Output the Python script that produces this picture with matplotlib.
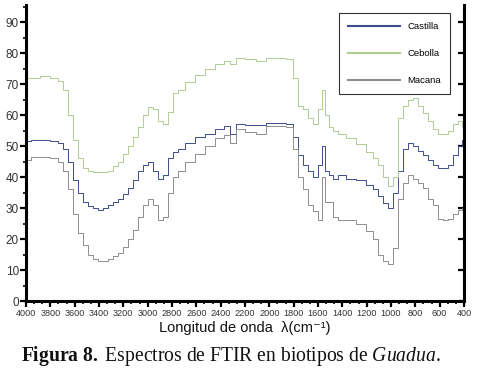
import numpy as np
import matplotlib
matplotlib.use('Agg')
import matplotlib.pyplot as plt
from matplotlib.ticker import MultipleLocator

# Wavenumbers (cm-1) shared by the three spectra
wavenumber = [4000, 3926, 3843, 3761, 3720, 3679, 3638, 3596, 3555, 3514,
              3473, 3432, 3390, 3349, 3308, 3267, 3226, 3184, 3143, 3102,
              3061, 3020, 2978, 2937, 2896, 2855, 2814, 2773, 2731, 2649,
              2567, 2484, 2402, 2336, 2303, 2237, 2155, 2072, 1990, 1908,
              1825, 1784, 1743, 1702, 1660, 1619, 1578, 1553, 1529, 1496,
              1454, 1413, 1331, 1248, 1166, 1125, 1084, 1043, 1001, 960,
              919, 878, 837, 795, 754, 713, 672, 631, 589, 548,
              507, 466, 425, 400]

castilla = [51.5, 52, 52, 51.5, 51, 49, 45, 39, 35, 32,
            30.5, 30, 29.5, 30, 31, 32, 33, 34.5, 36.5, 39,
            42, 44, 45, 42, 39.5, 40.5, 46, 48, 49, 51,
            53, 54, 55.5, 56.5, 54, 57, 56.8, 56.8, 57.4, 57.4,
            57, 53, 47, 44, 42, 40, 44, 50, 42, 40.5,
            39.5, 40.5, 39.5, 39, 37.5, 36, 34, 31.5, 30, 35,
            42, 49, 51, 50, 48.5, 47, 45.5, 44, 43, 43,
            44, 47, 50, 52]

cebolla = [72, 72, 72.5, 72, 71, 68, 60, 52, 46, 43,
           42, 41.5, 41.5, 41.5, 42, 43.5, 45, 47.5, 50, 53,
           56, 60, 62.5, 62, 58, 57, 61, 67, 68, 70.5,
           73, 75, 76.5, 77.5, 76.5, 78.5, 78, 77.5, 78.5, 78.5,
           78, 72, 63, 62, 59, 57, 62, 68, 60, 56,
           55, 54, 52.5, 50.5, 48, 46, 44, 40, 37, 40,
           59, 63, 65, 65.5, 63, 60.5, 58, 55.5, 54, 54,
           55, 57, 58, 56]

macana = [45.5, 46.5, 46.5, 46, 45, 42, 36, 28, 22, 18,
          15, 13.5, 13, 13, 13.5, 14.5, 15.5, 17.5, 20, 23,
          27, 31, 33, 31, 26, 27, 35, 40, 42, 45,
          47.5, 50, 52.5, 53.5, 51, 55.5, 54.5, 54, 56.5, 56.5,
          56, 49, 40, 36, 31, 29, 26, 40, 32, 32,
          27, 26, 26, 25, 22.5, 20, 15, 13, 12, 17,
          33, 38, 40.5, 39.5, 38, 36.5, 33, 31, 26.5, 26,
          26.5, 28, 29.5, 30]

# Fonts
plt.rcParams['font.family'] = ['Liberation Sans', 'DejaVu Sans']
plt.rcParams['mathtext.fontset'] = 'custom'
plt.rcParams['mathtext.rm'] = 'Liberation Serif'
plt.rcParams['mathtext.bf'] = 'Liberation Serif:bold'
plt.rcParams['mathtext.it'] = 'Liberation Serif:italic'

fig = plt.figure(figsize=(4.78, 3.77), dpi=100)
ax = fig.add_axes([26 / 478, 1 - 301 / 377, 438 / 478, 296 / 377])

# Spectra drawn as steps, like the scanned original
ax.plot(wavenumber, castilla, color='#3b4d8c', linewidth=0.7, drawstyle='steps-mid', label='Castilla')
ax.plot(wavenumber, cebolla, color='#b0cc92', linewidth=0.7, drawstyle='steps-mid', label='Cebolla')
ax.plot(wavenumber, macana, color='#8e8e8e', linewidth=0.7, drawstyle='steps-mid', label='Macana')

# Axis ranges (x reversed)
ax.set_xlim(4000, 400)
ax.set_ylim(0, 95.5)

ax.xaxis.set_major_locator(MultipleLocator(200))
ax.xaxis.set_minor_locator(MultipleLocator(200 / 3))
ax.yaxis.set_major_locator(MultipleLocator(10))
ax.yaxis.set_minor_locator(MultipleLocator(5))
ax.set_yticks(np.arange(0, 91, 10))

# Spines
ax.spines['top'].set_visible(False)
for side in ['left', 'bottom', 'right']:
  ax.spines[side].set_linewidth(2.2)

ax.tick_params(axis='x', which='major', direction='out', length=4, width=1.6, labelsize=6.6, pad=2,
               labelcolor='#333333')
ax.tick_params(axis='x', which='minor', direction='out', length=2.5, width=1.2)
ax.tick_params(axis='y', which='major', direction='out', length=4, width=1.6, labelsize=8.5, pad=1,
               right=True, labelcolor='#333333')
ax.tick_params(axis='y', which='minor', direction='out', length=2.5, width=1.2, right=False)

# The right spine ticks point inward
for tick in ax.yaxis.get_major_ticks():
  tick.tick2line.set_marker(matplotlib.lines.TICKLEFT)
  tick.tick2line.set_markersize(4)

# Legend
leg = ax.legend(loc='upper right', bbox_to_anchor=(0.979, 0.99), fontsize=6.8, frameon=True,
                fancybox=False, edgecolor='black', handlelength=5.5, handletextpad=0.7,
                labelspacing=1.9, borderpad=1.0)
leg.get_frame().set_linewidth(0.8)
for line in leg.get_lines():
  line.set_linewidth(1.5)

# Axis title and caption
fig.text(0.513, 1 - 328 / 377, 'Longitud de onda  \u03bb(cm\u207b\u00b9)', ha='center', va='center',
         fontsize=10.5, color='#111111')
fig.text(0.484, 1 - 356 / 377, r'$\mathbf{Figura\ 8.}$ Espectros de FTIR en biotipos de $\mathit{Guadua}$.',
         ha='center', va='center', fontsize=14.1, family='Liberation Serif', color='#111111')

plt.savefig('out.png', dpi=100)
